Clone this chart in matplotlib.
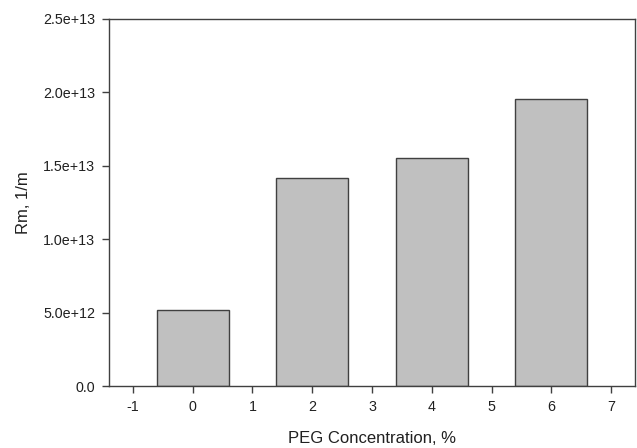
import matplotlib
matplotlib.use("Agg")
import matplotlib.pyplot as plt

plt.rcParams['font.family'] = ['Liberation Sans', 'DejaVu Sans']

peg_conc = [0, 2, 4, 6]
rm_values = [5.2e12, 1.42e13, 1.555e13, 1.955e13]
x_ticks = [-1, 0, 1, 2, 3, 4, 5, 6, 7]
y_ticks = [0, 5e12, 1e13, 1.5e13, 2e13, 2.5e13]
y_labels = ["0.0", "5.0e+12", "1.0e+13", "1.5e+13", "2.0e+13", "2.5e+13"]

fig = plt.figure(figsize=(6.37, 4.48), dpi=100)
left, right, top, bottom = 109, 635, 19, 386
ax = fig.add_axes([left / 637, 1 - bottom / 448, (right - left) / 637, (bottom - top) / 448])

ax.bar(peg_conc, rm_values, width=1.2, color='#c0c0c0', edgecolor='#404040', linewidth=1.0)

ax.set_xlim(-1.4, 7.4)
ax.set_ylim(0, 2.5e13)
ax.set_xticks(x_ticks)
ax.set_xticklabels([str(v) for v in x_ticks])
ax.set_yticks(y_ticks)
ax.set_yticklabels(y_labels)

for s in ax.spines.values():
    s.set_color('#404040')
    s.set_linewidth(1.0)

ax.tick_params(axis='both', direction='out', length=4.7, width=1, color='#404040',
               labelsize=10.3, labelcolor='#202020')
ax.tick_params(axis='x', pad=5.3)
ax.tick_params(axis='y', pad=5.2)

ax.set_xlabel('PEG Concentration, %', fontsize=12, color='#202020', labelpad=12)
ax.set_ylabel('Rm, 1/m', fontsize=12, color='#202020', labelpad=9)

fig.savefig('out.png', dpi=100)
